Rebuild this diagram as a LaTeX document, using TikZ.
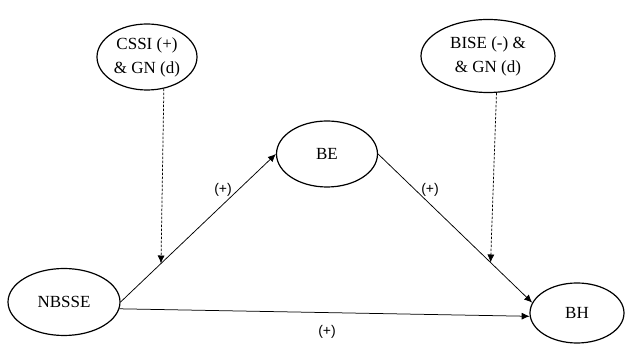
\documentclass[tikz,border=0pt]{standalone}
\usepackage{fontspec}
\setmainfont{Liberation Serif}
\newfontfamily\labelfont{Liberation Sans}
\usetikzlibrary{arrows.meta,calc,shapes.geometric}
\tikzset{
  var/.style={ellipse,draw,line width=1.2pt,inner sep=0pt,align=center,
    font=\fontsize{17}{24}\selectfont},
  link/.style={line width=0.75pt,-{Latex[length=8pt,width=7pt]}},
  moder/.style={line width=0.75pt,dashed,dash pattern=on 2.5pt off 1.5pt,-{Latex[length=8pt,width=7pt]}},
  sign/.style={font=\labelfont\fontsize{14}{16}\selectfont,inner sep=0pt}
}
\begin{document}
\begin{tikzpicture}[x=1pt,y=-1pt]
\useasboundingbox (0,0) rectangle (625,344);
\node[var,minimum width=100pt,minimum height=66pt] (cs) at (147,57) {CSSI (+)\\\& GN (d)};
\node[var,minimum width=134pt,minimum height=73pt] (bi) at (488,56) {BISE (-) \&\\\& GN (d)};
\node[var,minimum width=101pt,minimum height=66pt] (be) at (327,154) {BE};
\node[var,minimum width=112pt,minimum height=67pt] (nb) at (64,302) {NBSSE};
\node[var,minimum width=94pt,minimum height=60pt] (bh) at (577,313) {BH};
\draw[link] (nb.east) -- (be.west);
\draw[link] (be.east) -- (bh.167);
\draw[link] (nb.-7) -- (bh.184);
\coordinate (m1) at ($(nb.east)!0.26!(be.west)$);
\coordinate (m2) at ($(be.east)!0.73!(bh.167)$);
\draw[moder] (cs.-62) -- (m1);
\draw[moder] (bi.-77) -- (m2);
\node[sign] (s1) at (223,190) {(+)};
\node[sign] (s2) at (430,190) {(+)};
\node[sign] (s3) at (327,332) {(+)};
\end{tikzpicture}
\end{document}
